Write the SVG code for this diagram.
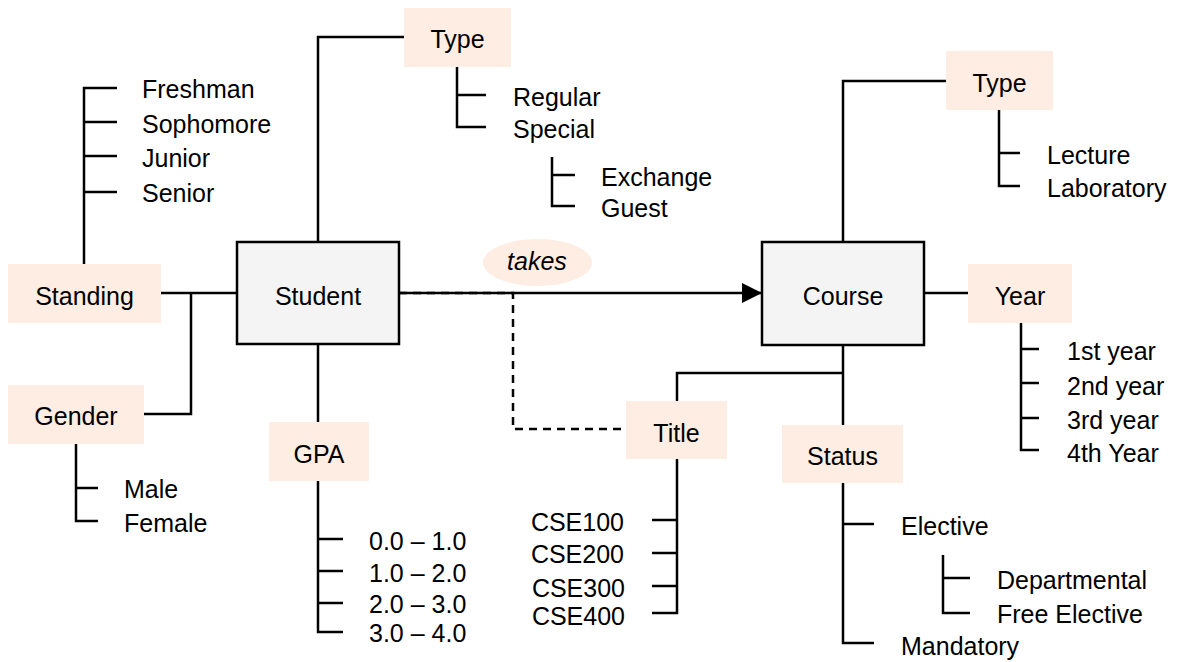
<svg xmlns="http://www.w3.org/2000/svg" width="1177" height="662" viewBox="0 0 1177 662">
<defs>
<style>
text{font-family:"Liberation Sans",Arial,sans-serif;font-size:25px;fill:#000}
.c{text-anchor:middle}
.e{text-anchor:end}
.attr{fill:#FDEDE2;stroke:none}
.ent{fill:#F4F4F4;stroke:#000;stroke-width:2.5}
.ln{fill:none;stroke:#000;stroke-width:2.5}
.dash{fill:none;stroke:#000;stroke-width:2.5;stroke-dasharray:8 6}
</style>
<marker id="arr" markerWidth="20" markerHeight="20" refX="20" refY="10" orient="auto" markerUnits="userSpaceOnUse">
<path d="M0,0 L20,10 L0,20 Z" fill="#000"/>
</marker>
</defs>
<rect width="1177" height="662" fill="#fff"/>

<g id="connectors">
<path class="ln" d="M318,242 V37 H404"/>
<path class="ln" d="M161,293 H237"/>
<path class="ln" d="M191,293 V414 H144"/>
<path class="ln" d="M318,344 V422"/>
<path class="ln" d="M399,293 H762" marker-end="url(#arr)"/>
<path class="dash" d="M399,293 H513 V429 H626"/>
<path class="ln" d="M843,242 V81 H946"/>
<path class="ln" d="M924,293 H968"/>
<path class="ln" d="M843,345 V425"/>
<path class="ln" d="M843,373 H677 V401"/>
</g>

<g id="student">
<rect class="ent" x="237" y="242" width="162" height="102"/>
<text class="c" x="318" y="305">Student</text>
</g>

<g id="course">
<rect class="ent" x="762" y="242" width="162" height="103"/>
<text class="c" x="843" y="305">Course</text>
</g>

<g id="takes">
<ellipse class="attr" cx="537.5" cy="262.5" rx="54.5" ry="23.5"/>
<text class="c" x="537" y="270" font-style="italic">takes</text>
</g>

<g id="standing">
<rect class="attr" x="8" y="264" width="153" height="59"/>
<text class="c" x="84.5" y="305">Standing</text>
<path class="ln" d="M84,264 V88 H117 M84,122 H117 M84,156 H117 M84,192 H117"/>
<text x="142" y="98">Freshman</text>
<text x="142" y="133">Sophomore</text>
<text x="142" y="167">Junior</text>
<text x="142" y="202">Senior</text>
</g>

<g id="gender">
<rect class="attr" x="8" y="385" width="136" height="59"/>
<text class="c" x="76" y="425">Gender</text>
<path class="ln" d="M76,444 V521 H98 M76,488 H98"/>
<text x="124" y="498">Male</text>
<text x="124" y="532">Female</text>
</g>

<g id="gpa">
<rect class="attr" x="269" y="422" width="100" height="59"/>
<text class="c" x="319" y="463">GPA</text>
<path class="ln" d="M318,481 V632 H343 M318,539 H343 M318,571 H343 M318,603 H343"/>
<text x="369" y="550">0.0 – 1.0</text>
<text x="369" y="582">1.0 – 2.0</text>
<text x="369" y="613">2.0 – 3.0</text>
<text x="369" y="642">3.0 – 4.0</text>
</g>

<g id="student-type">
<rect class="attr" x="404" y="8" width="107" height="59"/>
<text class="c" x="457.5" y="48">Type</text>
<path class="ln" d="M457,67 V127 H486 M457,95 H486"/>
<text x="513" y="106">Regular</text>
<text x="513" y="138">Special</text>
<path class="ln" d="M552,157 V206 H575 M552,175 H575"/>
<text x="601" y="186">Exchange</text>
<text x="601" y="217">Guest</text>
</g>

<g id="course-type">
<rect class="attr" x="946" y="51" width="107" height="59"/>
<text class="c" x="999.5" y="92">Type</text>
<path class="ln" d="M999,110 V186 H1020 M999,153 H1020"/>
<text x="1047" y="164">Lecture</text>
<text x="1047" y="197">Laboratory</text>
</g>

<g id="year">
<rect class="attr" x="968" y="264" width="104" height="59"/>
<text class="c" x="1020" y="305">Year</text>
<path class="ln" d="M1021,323 V450 H1039 M1021,349 H1039 M1021,383 H1039 M1021,418 H1039"/>
<text x="1067" y="360">1st year</text>
<text x="1067" y="395">2nd year</text>
<text x="1067" y="429">3rd year</text>
<text x="1067" y="462">4th Year</text>
</g>

<g id="title">
<rect class="attr" x="626" y="401" width="101" height="58"/>
<text class="c" x="676.5" y="442">Title</text>
<path class="ln" d="M677,459 V613 H652 M677,520 H652 M677,553 H652 M677,586 H652"/>
<text class="e" x="624" y="531">CSE100</text>
<text class="e" x="624" y="563">CSE200</text>
<text class="e" x="625" y="597">CSE300</text>
<text class="e" x="625" y="625">CSE400</text>
</g>

<g id="status">
<rect class="attr" x="782" y="425" width="121" height="58"/>
<text class="c" x="842.5" y="465">Status</text>
<path class="ln" d="M843,483 V643 H874 M843,524 H874"/>
<text x="901" y="535">Elective</text>
<path class="ln" d="M943,555 V613 H970 M943,578 H970"/>
<text x="997" y="589">Departmental</text>
<text x="997" y="623">Free Elective</text>
<text x="901" y="655">Mandatory</text>
</g>
</svg>
